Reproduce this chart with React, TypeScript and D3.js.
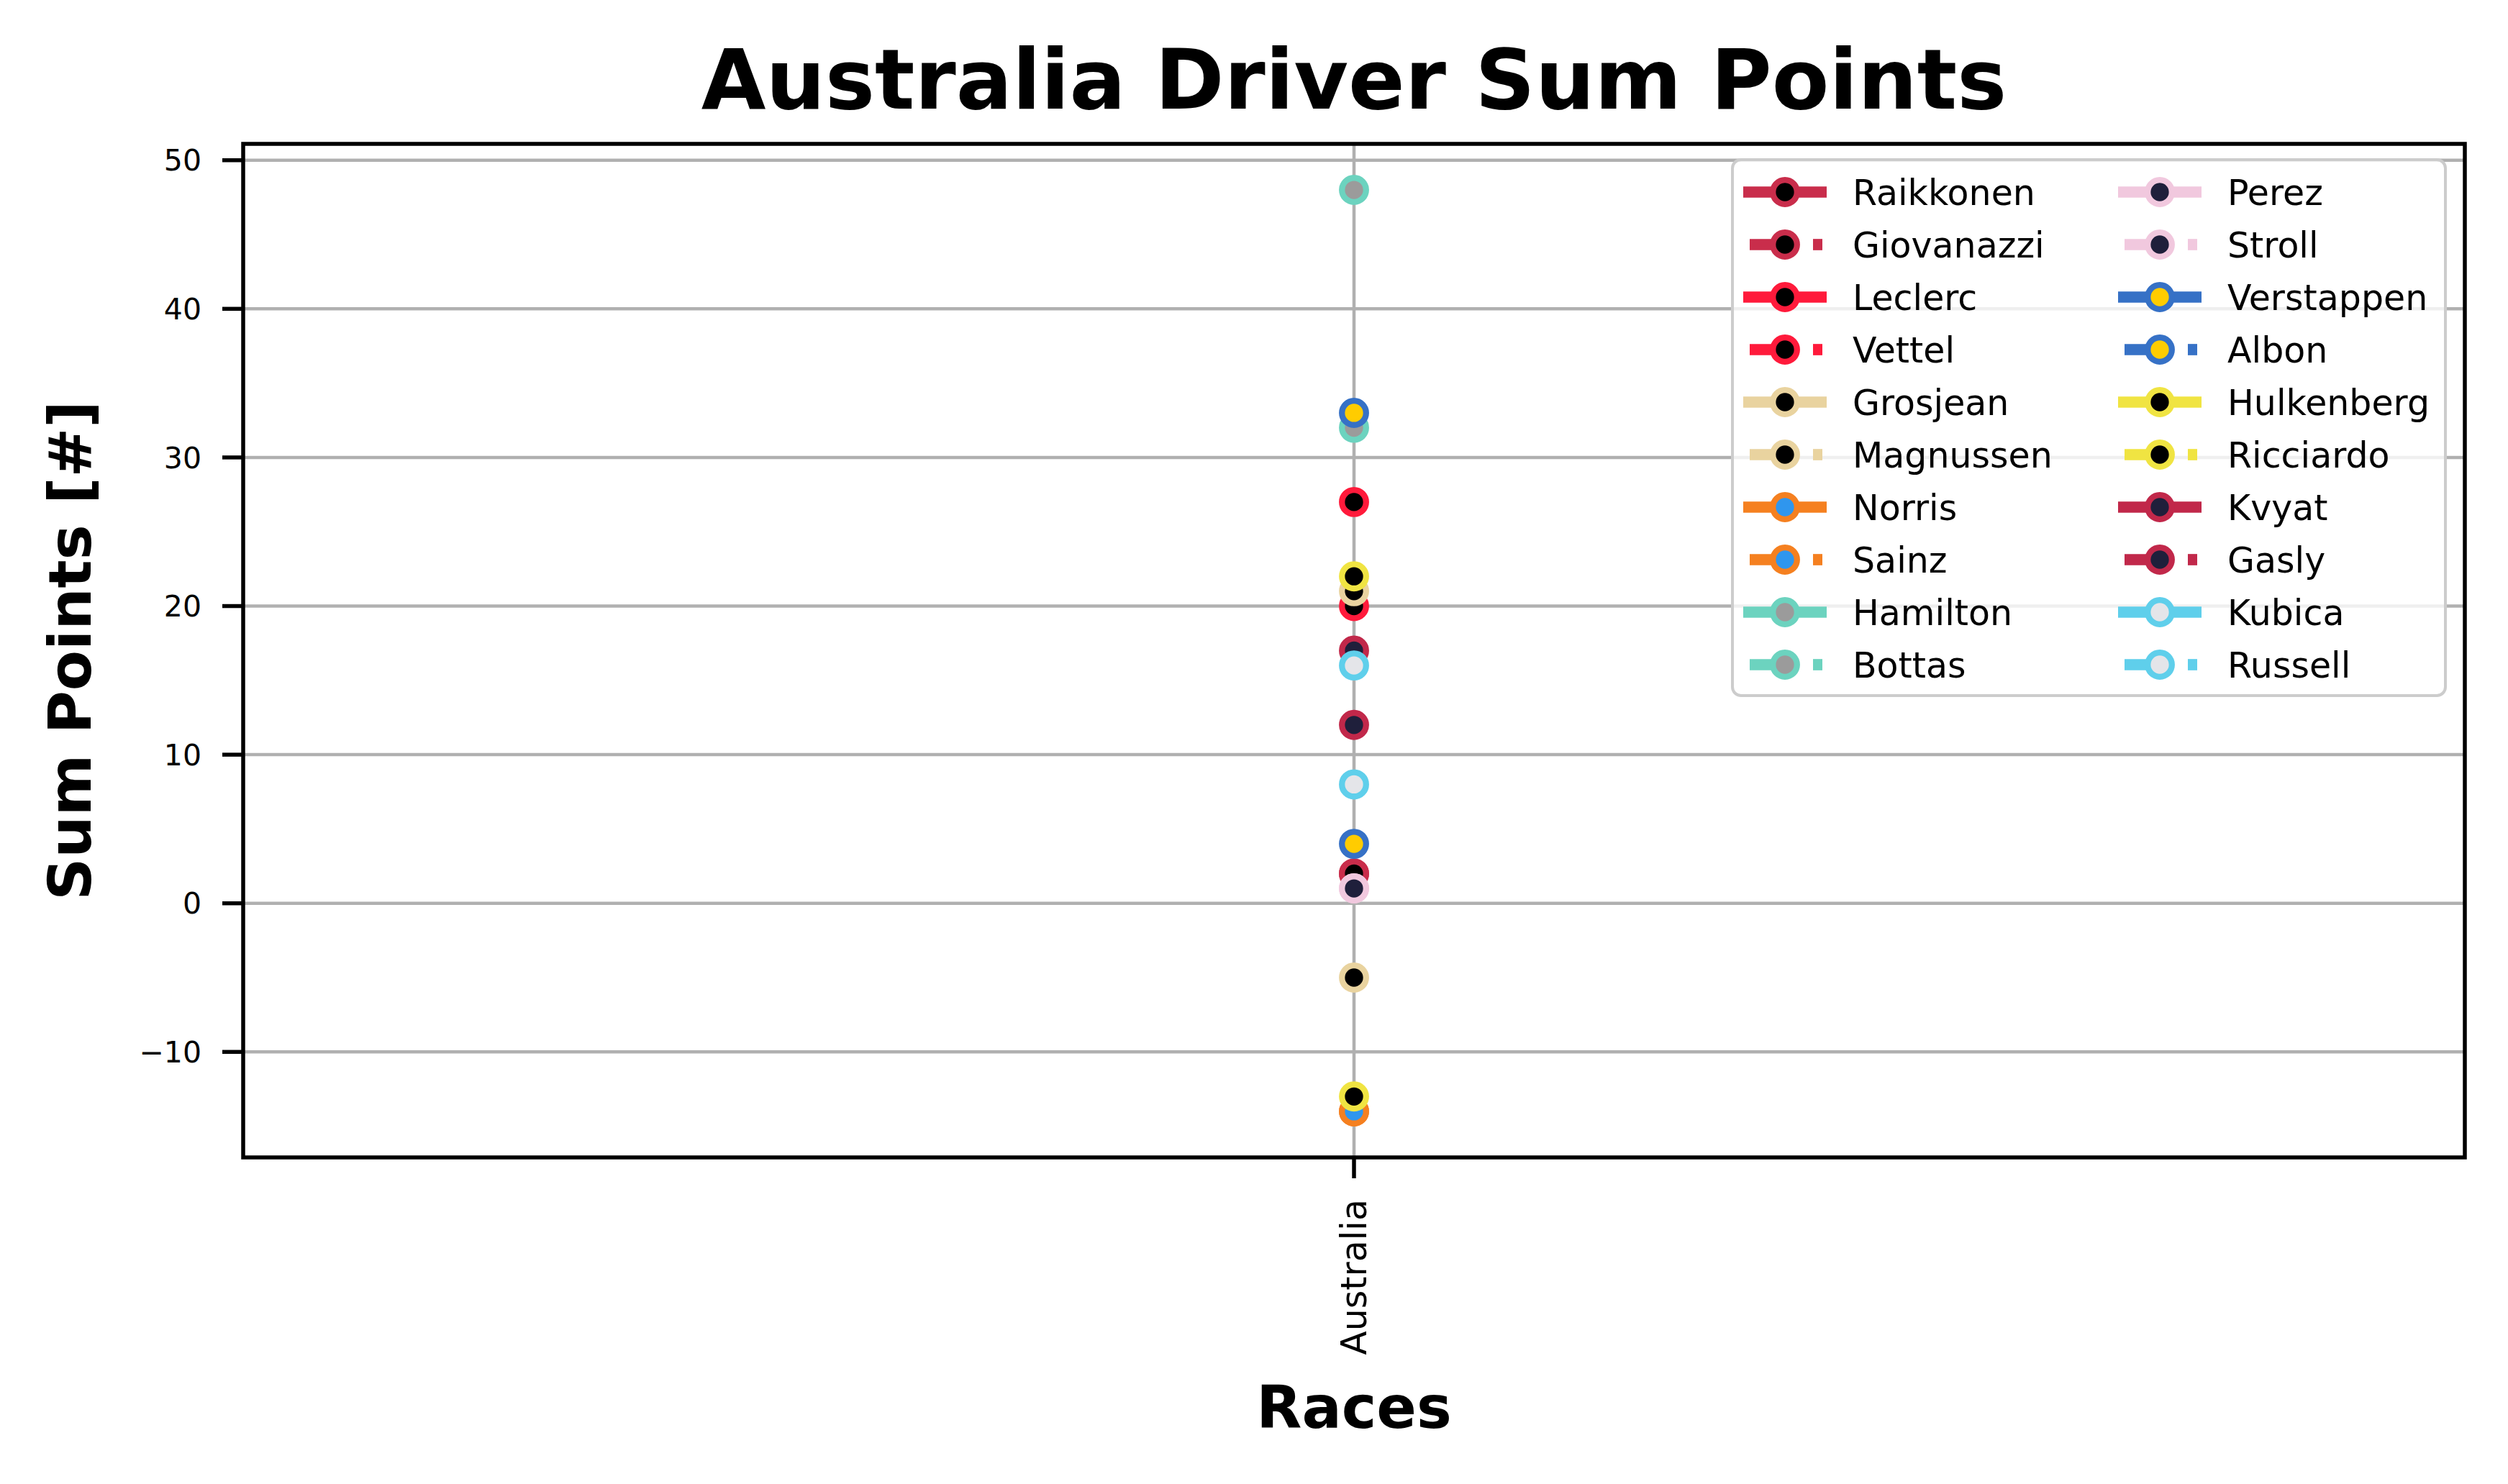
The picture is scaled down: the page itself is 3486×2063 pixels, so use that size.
import React from "react";
import * as d3 from "d3";

const races = ["Australia"];
const drivers = [
  "Raikkonen", "Giovanazzi", "Leclerc", "Vettel", "Grosjean", "Magnussen",
  "Norris", "Sainz", "Hamilton", "Bottas", "Perez", "Stroll",
  "Verstappen", "Albon", "Hulkenberg", "Ricciardo", "Kvyat", "Gasly",
  "Kubica", "Russell",
];
const sumPoints = [2, 2, 27, 20, -5, 21, -14, -14, 48, 32, 1, 1, 33, 4, 22, -13, 17, 12, 8, 16];
const lineColors = [
  "#C92D4B", "#C92D4B", "#FF1A3B", "#FF1A3B", "#E9D39F", "#E9D39F",
  "#F58020", "#F58020", "#6CD3BF", "#6CD3BF", "#F1C8DE", "#F1C8DE",
  "#3671C6", "#3671C6", "#F0E442", "#F0E442", "#C1284A", "#C1284A",
  "#5FCFEB", "#5FCFEB",
];
const faceColors = [
  "#000000", "#000000", "#000000", "#000000", "#000000", "#000000",
  "#2F96EE", "#2F96EE", "#9B9B9B", "#9B9B9B", "#1F1F3B", "#1F1F3B",
  "#FFCC00", "#FFCC00", "#000000", "#000000", "#1F1F3B", "#1F1F3B",
  "#E4E5E9", "#E4E5E9",
];
const lineStyles = [
  "solid", "dotted", "solid", "dotted", "solid", "dotted", "solid", "dotted",
  "solid", "dotted", "solid", "dotted", "solid", "dotted", "solid", "dotted",
  "solid", "dotted", "solid", "dotted",
];
const yTicks = [-10, 0, 10, 20, 30, 40, 50];

const W = 3486;
const H = 2063;
const left = 338, right = 3426, top = 200, bottom = 1609;
const FONT = "DejaVu Sans, sans-serif";

export default function App() {
  const x = d3.scalePoint<string>().domain(races).range([left, right]).padding(0.5);
  const lo = d3.min(sumPoints)!;
  const hi = d3.max(sumPoints)!;
  const m = (hi - lo) * 0.05;
  const y = d3.scaleLinear().domain([lo - m, hi + m]).range([bottom, top]);

  const mR = 16.8, mSW = 8.3;

  // legend layout
  const lgX = 2408, lgY = 222, lgW = 991, lgH = 745;
  const rowY0 = 267, rowStep = 73;
  const colX = [2423, 2944];
  const handleW = 116;
  const textOff = 152;

  return (
    <svg width={W} height={H} style={{ position: "absolute", left: 0, top: 0, background: "#fff" }}>
      <rect x={0} y={0} width={W} height={H} fill="#fff" />
      {/* grid */}
      {yTicks.map((t) => (
        <line key={"gy" + t} x1={left} x2={right} y1={y(t)} y2={y(t)} stroke="#b0b0b0" strokeWidth={4.5} />
      ))}
      {races.map((r) => (
        <line key={"gx" + r} x1={x(r)} x2={x(r)} y1={top} y2={bottom} stroke="#b0b0b0" strokeWidth={4.5} />
      ))}
      {/* points */}
      {drivers.map((d, i) => (
        <circle key={d} cx={x(races[0])} cy={y(sumPoints[i])} r={mR} fill={faceColors[i]} stroke={lineColors[i]} strokeWidth={mSW} />
      ))}
      {/* spines */}
      <rect x={left} y={top} width={right - left} height={bottom - top} fill="none" stroke="#000" strokeWidth={5.5} />
      {/* y ticks */}
      {yTicks.map((t) => (
        <g key={"yt" + t}>
          <line x1={left - 29} x2={left} y1={y(t)} y2={y(t)} stroke="#000" strokeWidth={5.5} />
          <text x={left - 58} y={y(t)} dy="0.36em" textAnchor="end" fontFamily={FONT} fontSize={41}>
            {t < 0 ? "\u2212" + Math.abs(t) : String(t)}
          </text>
        </g>
      ))}
      {/* x ticks */}
      {races.map((r) => (
        <g key={"xt" + r}>
          <line x1={x(r)} x2={x(r)} y1={bottom} y2={bottom + 29} stroke="#000" strokeWidth={5.5} />
          <text transform={`translate(${x(r)! + 17},${bottom + 58}) rotate(-90)`} textAnchor="end" fontFamily={FONT} fontSize={49}>
            {r}
          </text>
        </g>
      ))}
      {/* labels */}
      <text x={(left + right) / 2} y={151} textAnchor="middle" fontFamily={FONT} fontWeight="bold" fontSize={116}>
        Australia Driver Sum Points
      </text>
      <text x={(left + right) / 2} y={1985} textAnchor="middle" fontFamily={FONT} fontWeight="bold" fontSize={82}>
        Races
      </text>
      <text transform={`translate(${126},${(top + bottom) / 2}) rotate(-90)`} textAnchor="middle" fontFamily={FONT} fontWeight="bold" fontSize={82}>
        Sum Points [#]
      </text>
      {/* legend */}
      <rect x={lgX} y={lgY} width={lgW} height={lgH} rx={12} ry={12} fill="#fff" fillOpacity={0.8} stroke="#cccccc" strokeWidth={4} />
      {drivers.map((d, i) => {
        const col = i < 10 ? 0 : 1;
        const row = i % 10;
        const cx = colX[col];
        const cy = rowY0 + row * rowStep;
        const dotted = lineStyles[i] === "dotted";
        return (
          <g key={"lg" + d}>
            {dotted ? (
              <g>
                <line x1={cx + 9} x2={cx + 50} y1={cy} y2={cy} stroke={lineColors[i]} strokeWidth={15.7} />
                <line x1={cx + 97} x2={cx + 110} y1={cy} y2={cy} stroke={lineColors[i]} strokeWidth={15.7} />
              </g>
            ) : (
              <line x1={cx} x2={cx + handleW} y1={cy} y2={cy} stroke={lineColors[i]} strokeWidth={15.7} />
            )}
            <circle cx={cx + handleW / 2} cy={cy} r={mR} fill={faceColors[i]} stroke={lineColors[i]} strokeWidth={mSW} />
            <text x={cx + textOff} y={cy} dy="0.36em" fontFamily={FONT} fontSize={49}>
              {d}
            </text>
          </g>
        );
      })}
    </svg>
  );
}
